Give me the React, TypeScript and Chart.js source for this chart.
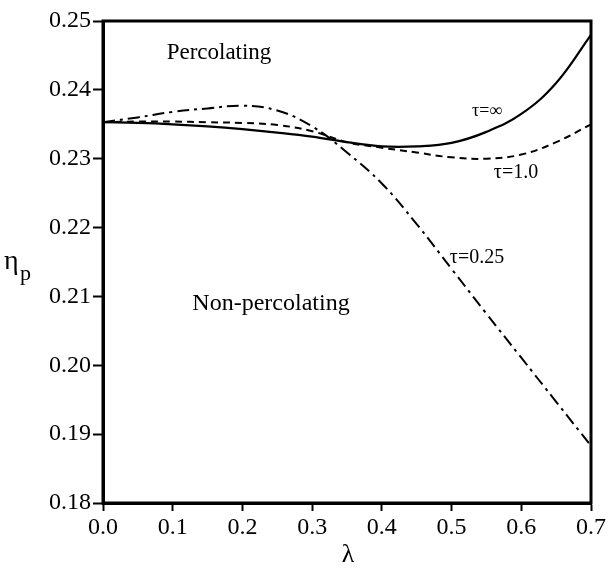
import React, { useEffect, useRef } from "react";
import { Chart, registerables } from "chart.js";

Chart.register(...registerables);

// τ = ∞ (solid)
const lambdaInf = [0, 0.05, 0.1, 0.15, 0.2, 0.25, 0.3, 0.35, 0.4, 0.45, 0.5, 0.55, 0.6, 0.65, 0.7];
const etaInf = [0.2353, 0.2352, 0.235, 0.2347, 0.2343, 0.2338, 0.2332, 0.2324, 0.2318, 0.2318, 0.2323, 0.2339, 0.2365, 0.241, 0.248];

// τ = 1.0 (dashed)
const lambdaOne = [0, 0.05, 0.1, 0.15, 0.2, 0.25, 0.3, 0.35, 0.4, 0.45, 0.5, 0.55, 0.6, 0.65, 0.7];
const etaOne = [0.2353, 0.2354, 0.2354, 0.2353, 0.2352, 0.2349, 0.234, 0.2324, 0.2316, 0.2309, 0.2302, 0.23, 0.2306, 0.2324, 0.235];

// τ = 0.25 (dash-dot)
const lambdaQuarter = [0, 0.05, 0.1, 0.15, 0.2, 0.25, 0.3, 0.35, 0.4, 0.45, 0.5, 0.55, 0.6, 0.65, 0.7];
const etaQuarter = [0.2353, 0.236, 0.2368, 0.2373, 0.2377, 0.237, 0.2347, 0.2309, 0.2264, 0.2205, 0.214, 0.2075, 0.2011, 0.1947, 0.1883];

const xTicks = [0, 0.1, 0.2, 0.3, 0.4, 0.5, 0.6, 0.7];
const yTicks = [0.18, 0.19, 0.2, 0.21, 0.22, 0.23, 0.24, 0.25];

const SERIF = '"Liberation Serif", "DejaVu Serif", serif';

const toPoints = (xs: number[], ys: number[]) => xs.map((x, i) => ({ x, y: ys[i] }));

const framePlugin = {
  id: "frame",
  afterDatasetsDraw(chart: any) {
    const { ctx, chartArea } = chart;
    const { left, top, right, bottom } = chartArea;
    ctx.save();
    ctx.strokeStyle = "#000";
    ctx.lineWidth = 3;
    ctx.strokeRect(left, top, right - left, bottom - top);

    ctx.fillStyle = "#000";
    ctx.textBaseline = "middle";
    ctx.textAlign = "center";
    ctx.font = `23px ${SERIF}`;
    ctx.fillText("Percolating", 219, 53);
    ctx.font = `24px ${SERIF}`;
    ctx.fillText("Non-percolating", 271, 304);
    ctx.font = `18px ${SERIF}`;
    ctx.fillText("τ=∞", 487, 111);
    ctx.font = `20px ${SERIF}`;
    ctx.fillText("τ=1.0", 516, 173);
    ctx.fillText("τ=0.25", 477, 258);

    // axis titles
    ctx.font = `26px ${SERIF}`;
    ctx.fillText("λ", 348, 555);
    ctx.textAlign = "left";
    ctx.textBaseline = "alphabetic";
    ctx.font = `28px ${SERIF}`;
    ctx.fillText("η", 4, 269);
    ctx.font = `22px ${SERIF}`;
    ctx.fillText("p", 20, 280);
    ctx.restore();
  },
};

export default function App() {
  const canvasRef = useRef<HTMLCanvasElement | null>(null);

  useEffect(() => {
    const canvas = canvasRef.current;
    if (!canvas) return;
    const chart = new Chart(canvas, {
      type: "line",
      data: {
        datasets: [
          {
            label: "τ=∞",
            data: toPoints(lambdaInf, etaInf),
            borderColor: "#000",
            borderWidth: 2.2,
            pointRadius: 0,
            tension: 0.4,
            fill: false,
          },
          {
            label: "τ=1.0",
            data: toPoints(lambdaOne, etaOne),
            borderColor: "#000",
            borderWidth: 2,
            borderDash: [7, 5],
            pointRadius: 0,
            tension: 0.4,
            fill: false,
          },
          {
            label: "τ=0.25",
            data: toPoints(lambdaQuarter, etaQuarter),
            borderColor: "#000",
            borderWidth: 2,
            borderDash: [12, 5, 3, 5],
            pointRadius: 0,
            tension: 0.4,
            fill: false,
          },
        ],
      },
      options: {
        animation: false,
        responsive: true,
        maintainAspectRatio: false,
        layout: { padding: { top: 21, right: 16, left: 0, bottom: 0 } },
        plugins: {
          legend: { display: false },
          tooltip: { enabled: false },
        },
        scales: {
          x: {
            type: "linear",
            min: 0,
            max: 0.7,
            afterFit: (scale: any) => {
              scale.height = 66;
            },
            afterBuildTicks: (scale: any) => {
              scale.ticks = xTicks.map((v) => ({ value: v }));
            },
            ticks: {
              color: "#000",
              font: { family: SERIF, size: 24 },
              padding: 2,
              maxRotation: 0,
              callback: (v: any) => Number(v).toFixed(1),
            },
            grid: {
              drawOnChartArea: false,
              drawTicks: true,
              tickLength: 8,
              tickWidth: 2,
              color: "#000",
            },
            border: { display: true, width: 3, color: "#000" },
          },
          y: {
            type: "linear",
            min: 0.18,
            max: 0.25,
            afterFit: (scale: any) => {
              scale.width = 103;
            },
            afterBuildTicks: (scale: any) => {
              scale.ticks = yTicks.map((v) => ({ value: v }));
            },
            ticks: {
              color: "#000",
              font: { family: SERIF, size: 24 },
              padding: 2,
              callback: (v: any) => Number(v).toFixed(2),
            },
            grid: {
              drawOnChartArea: false,
              drawTicks: true,
              tickLength: 10,
              tickWidth: 2,
              color: "#000",
            },
            border: { display: true, width: 3, color: "#000" },
          },
        },
      },
      plugins: [framePlugin],
    });
    return () => chart.destroy();
  }, []);

  return (
    <div style={{ position: "fixed", left: 0, top: 0, width: 608, height: 569, background: "#fff" }}>
      <canvas ref={canvasRef} />
    </div>
  );
}
